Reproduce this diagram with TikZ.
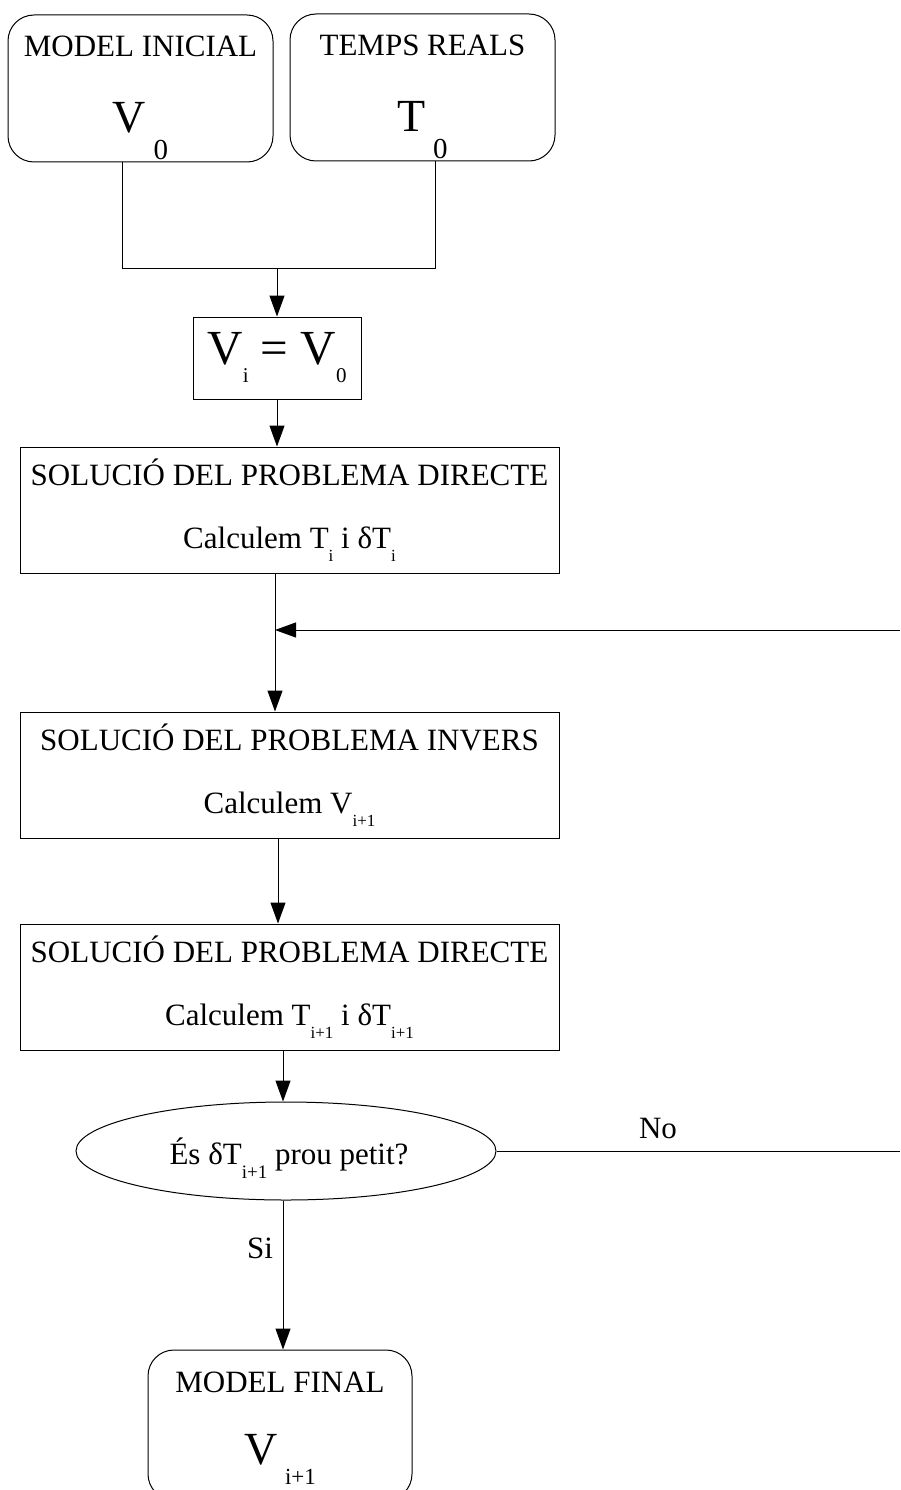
\documentclass[tikz,border=0pt]{standalone}
\usepackage{fontspec}
\setmainfont{Liberation Serif}
\usetikzlibrary{shapes.geometric,arrows.meta}

\newcommand{\bigsub}[1]{\raisebox{-27pt}{\fontsize{29}{29}\selectfont #1}}
\newcommand{\midsub}[1]{\raisebox{-18pt}{\fontsize{21}{21}\selectfont #1}}
\newcommand{\lowsub}[1]{\raisebox{-13pt}{\fontsize{17}{17}\selectfont #1}}
\newcommand{\bigV}{\fontsize{46}{46}\selectfont}

\tikzset{
  arr/.style={-{Triangle[length=21pt,width=15pt]}},
  roundbox/.style={draw, rounded corners=26pt, inner sep=0pt},
  sqbox/.style={draw, align=center, inner sep=0pt, minimum width=539pt, minimum height=126pt},
}

\begin{document}
\begin{tikzpicture}[x=1pt, y=-1pt, line width=1pt, font=\fontsize{31}{36}\selectfont]
\useasboundingbox (0,0) rectangle (900,1490);
\clip (0,0) rectangle (900,1490);

\node[roundbox, minimum width=265pt, minimum height=147pt] (init) at (140.5,88.5) {};
\node[align=center] (initlbl) at (140.5,98) {MODEL INICIAL\\[40pt]{\bigV V\,\bigsub{0}}};
\node[roundbox, minimum width=265pt, minimum height=147pt] (real) at (422.5,87.5) {};
\node[align=center] (reallbl) at (422.5,97) {TEMPS REALS\\[40pt]{\bigV T\,\bigsub{0}}};

\node[draw, inner sep=0pt, minimum width=168pt, minimum height=82pt] (vi) at (277,358)
  {\fontsize{49}{49}\selectfont V\midsub{i} = V\midsub{0}};

\node[sqbox] (dir1) at (289.5,510) {SOLUCIÓ DEL PROBLEMA DIRECTE\\[27pt]Calculem T\lowsub{i} i δT\lowsub{i}};
\node[sqbox] (inv) at (289.5,775) {SOLUCIÓ DEL PROBLEMA INVERS\\[27pt]Calculem V\lowsub{i+1}};
\node[sqbox] (dir2) at (289.5,987) {SOLUCIÓ DEL PROBLEMA DIRECTE\\[27pt]Calculem T\lowsub{i+1} i δT\lowsub{i+1}};

\node[draw, ellipse, inner sep=0pt, minimum width=420pt, minimum height=98pt] (ell) at (286,1151) {};
\node (elllbl) at (289,1158) {És δT\raisebox{-14pt}{\fontsize{19}{19}\selectfont i+1} prou petit?};

\node[roundbox, minimum width=264pt, minimum height=150pt] (fin) at (280,1425) {};
\node[align=center] (finlbl) at (280,1428) {MODEL FINAL\\[36pt]{\bigV V\,\raisebox{-20pt}{\fontsize{23}{23}\selectfont i+1}}};

\node (no) at (658,1128) {No};
\node (si) at (260,1248) {Si};

\coordinate (m1) at (122,268);
\coordinate (m2) at (435,268);
\coordinate (back) at (275,630);
\coordinate (ret) at (900,630);
\coordinate (noend) at (900,1151);

\draw (init.south -| m1) |- (m2) -- (m2 |- real.south);
\draw[arr] (vi.north |- m1) -- (vi.north);
\draw[arr] (vi.south) -- (vi.south |- dir1.north);
\draw[arr] (back |- dir1.south) -- (back |- inv.north);
\draw[arr] (ret) -- (back);
\draw[arr] ([xshift=-11.5pt]inv.south) -- ([xshift=-11.5pt]dir2.north);
\draw[arr] ([xshift=-6.5pt]dir2.south) -- ([xshift=-3pt]ell.north);
\draw (ell.east) -- (noend);
\draw[arr] ([xshift=-3pt]ell.south) -- ([xshift=3pt]fin.north);
\end{tikzpicture}
\end{document}
